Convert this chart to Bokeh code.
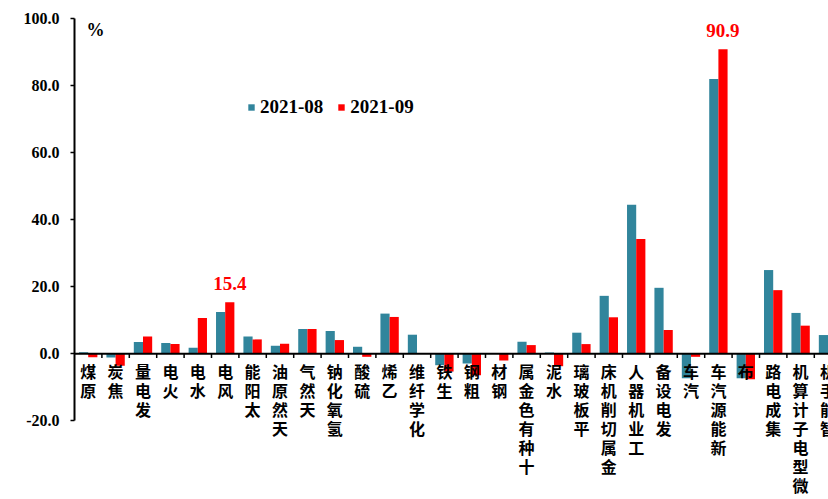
import math

from bokeh.core.properties import value
from bokeh.embed import file_html
from bokeh.models import (ColumnDataSource, FixedTicker, Legend, LegendItem,
                          NumeralTickFormatter, Range1d, Span)
from bokeh.plotting import figure
from bokeh.resources import INLINE
from bokeh.transform import dodge

# Year-on-year growth of industrial output by product (%)
categories = ["原煤", "焦炭", "发电量", "火电", "水电", "风电", "太阳能", "天然原油",
              "天然气", "氢氧化钠", "硫酸", "乙烯", "化学纤维", "生铁", "粗钢", "钢材",
              "十种有色金属", "水泥", "平板玻璃", "金属切削机床", "工业机器人", "发电设备",
              "汽车", "新能源汽车", "布", "集成电路", "微型电子计算机", "智能手机"]
growth_2021_08 = [0.5, -1.1, 3.5, 3.2, 1.8, 12.5, 5.2, 2.4, 7.4, 6.8, 2.1, 12.0,
                  5.7, -3.4, -2.9, 0.0, 3.6, 0.4, 6.3, 17.3, 44.5, 19.7, -7.3,
                  82.0, -7.3, 25.0, 12.2, 5.6]
growth_2021_09 = [-1.0, -3.6, 5.2, 2.9, 10.7, 15.4, 4.3, 3.0, 7.4, 4.1, -0.9, 11.0,
                  0.0, -5.3, -6.4, -2.0, 2.6, -3.7, 2.9, 10.9, 34.3, 7.1, -0.9,
                  90.9, -7.6, 19.0, 8.4, float("nan")]
series_names = ["2021-08", "2021-09"]
y_ticks = [-20, 0, 20, 40, 60, 80, 100]
labelled = ["风电", "新能源汽车"]

TEAL = "#31859C"
RED = "#FF0000"
SERIF = "Liberation Serif"
CJK = "Noto Sans CJK SC"

n = len(categories)
xs = list(range(n))
# category names are stacked one character per line, read from the bottom up
stacked = ["\n".join(reversed(c)) for c in categories]

src = ColumnDataSource(dict(x=xs, aug=growth_2021_08, sep=growth_2021_09, lab=stacked))

p = figure(width=828, height=499, output_backend="svg", toolbar_location=None,
           x_axis_location=None, min_border_left=74, min_border_right=0,
           min_border_top=0, min_border_bottom=0,
           x_range=Range1d(-0.5, -0.5 + 754 / 27.4),
           y_range=Range1d(-43.49, 105.46))
p.xgrid.visible = False
p.ygrid.visible = False
p.outline_line_color = None
p.background_fill_color = "white"
p.border_fill_color = "white"

bw = 0.335
r_aug = p.vbar(x=dodge("x", -bw / 2), top="aug", width=bw, source=src,
               fill_color=TEAL, line_color=None)
r_sep = p.vbar(x=dodge("x", bw / 2), top="sep", width=bw, source=src,
               fill_color=RED, line_color=None)

# zero line with short ticks between categories
p.add_layout(Span(location=0, dimension="width", line_color="black", line_width=2))
bounds = [i + 0.5 for i in xs]
p.segment(x0=bounds, y0=[0] * n, x1=bounds, y1=[-1.25] * n,
          line_color="black", line_width=1.5)

# category labels hanging under the zero line
p.text(x="x", y=-1.7, text="lab", source=src, text_align="center",
       text_baseline="top", text_font=value(CJK), text_font_size="16px",
       text_font_style="bold", text_line_height=0.79, text_color="black")

# value callouts for the highlighted bars
lx = [categories.index(c) + bw / 2 for c in labelled]
ly = [growth_2021_09[categories.index(c)] for c in labelled]
p.text(x=lx, y=ly, text=[f"{v:.1f}" for v in ly], text_align="center",
       text_baseline="bottom", y_offset=-12, text_font=value(SERIF),
       text_font_style="bold", text_font_size="19px", text_color=RED)

# unit marker
p.text(x=[-0.06], y=[99.6], text=["%"], text_align="left", text_baseline="top",
       text_font=value(SERIF), text_font_style="bold", text_font_size="18px",
       text_color="black")

ax = p.yaxis[0]
ax.ticker = FixedTicker(ticks=y_ticks)
ax.formatter = NumeralTickFormatter(format="0.0")
ax.bounds = (-20, 100)
ax.axis_line_width = 2
ax.axis_line_color = "black"
ax.major_tick_line_width = 1.5
ax.major_tick_out = 4
ax.major_tick_in = 0
ax.minor_tick_out = 0
ax.minor_tick_in = 0
ax.major_label_standoff = 11
ax.major_label_text_font = SERIF
ax.major_label_text_font_style = "bold"
ax.major_label_text_font_size = "16px"
ax.major_label_text_color = "black"

legend = Legend(items=[LegendItem(label=series_names[0], renderers=[r_aug]),
                       LegendItem(label=series_names[1], renderers=[r_sep])],
                orientation="horizontal", location=(173, 381),
                glyph_width=8, glyph_height=8, label_standoff=5, spacing=14,
                padding=0, margin=0, border_line_color=None,
                background_fill_alpha=0, label_text_font=SERIF,
                label_text_font_style="bold", label_text_font_size="19px",
                label_text_color="black")
p.add_layout(legend)

open("out.html", "w").write(file_html(p, INLINE))
